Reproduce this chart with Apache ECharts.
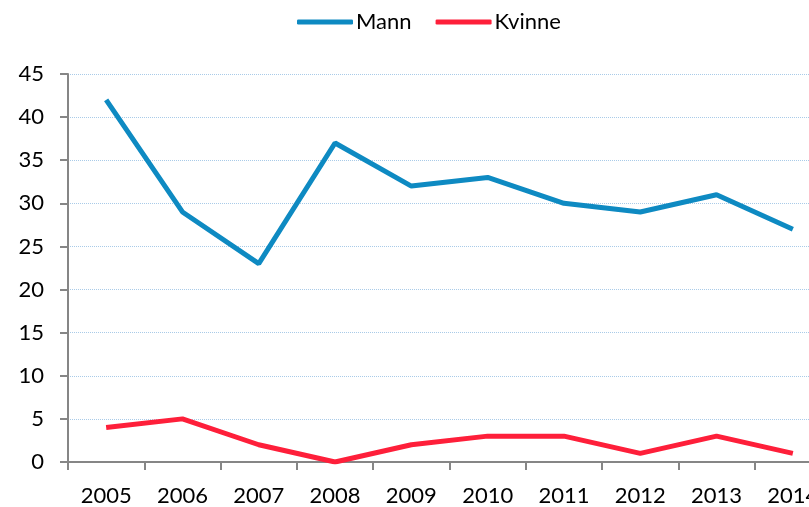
<!DOCTYPE html>
<html>
<head>
<meta charset="utf-8">
<script src="https://cdn.jsdelivr.net/npm/echarts@6/dist/echarts.min.js"></script>
<style>
  html, body { margin: 0; padding: 0; background: #fff; }
  #wrap { width: 809px; height: 507px; overflow: hidden; }
  #chart { width: 831px; height: 507px; }
</style>
</head>
<body>
<div id="wrap"><div id="chart"></div></div>
<script>
  const years = ['2005', '2006', '2007', '2008', '2009', '2010', '2011', '2012', '2013', '2014'];
  const mann = [42, 29, 23, 37, 32, 33, 30, 29, 31, 27];
  const kvinne = [4, 5, 2, 0, 2, 3, 3, 1, 3, 1];

  const font = 'Lato, Calibri, sans-serif';

  // chart is a bit wider than the window so the 2014 label gets cut like the original
  const chart = echarts.init(document.getElementById('chart'));
  chart.setOption({
    animation: false,
    textStyle: { fontFamily: font },
    legend: {
      top: 6,
      left: 292,
      icon: 'roundRect',
      itemWidth: 56,
      itemHeight: 5,
      itemGap: 24,
      textStyle: { fontSize: 22, color: '#000', fontFamily: font, padding: [0, 0, 0, -2] },
      data: ['Mann', 'Kvinne']
    },
    grid: {
      left: 68,
      right: 0,
      top: 74,
      bottom: 45,
      containLabel: false
    },
    xAxis: {
      type: 'category',
      data: years,
      boundaryGap: true,
      axisLine: { lineStyle: { color: '#868686', width: 2 } },
      axisTick: { show: true, length: 8, lineStyle: { color: '#868686', width: 2 } },
      axisLabel: { fontSize: 22, color: '#000', margin: 23, fontFamily: font }
    },
    yAxis: {
      type: 'value',
      min: 0,
      max: 45,
      interval: 5,
      axisLine: { show: true, lineStyle: { color: '#868686', width: 2 } },
      axisTick: { show: true, length: 8, lineStyle: { color: '#868686', width: 2 } },
      axisLabel: { fontSize: 22, color: '#000', margin: 24, fontFamily: font },
      splitLine: { lineStyle: { color: '#a9cbe8', type: 'dotted', width: 1 } }
    },
    series: [
      {
        name: 'Mann',
        type: 'line',
        data: mann,
        symbol: 'none',
        color: '#0e8ac2',
        lineStyle: { width: 5, color: '#0e8ac2' }
      },
      {
        name: 'Kvinne',
        type: 'line',
        data: kvinne,
        symbol: 'none',
        color: '#fe1f3a',
        lineStyle: { width: 5, color: '#fe1f3a' }
      }
    ]
  });
</script>
</body>
</html>
